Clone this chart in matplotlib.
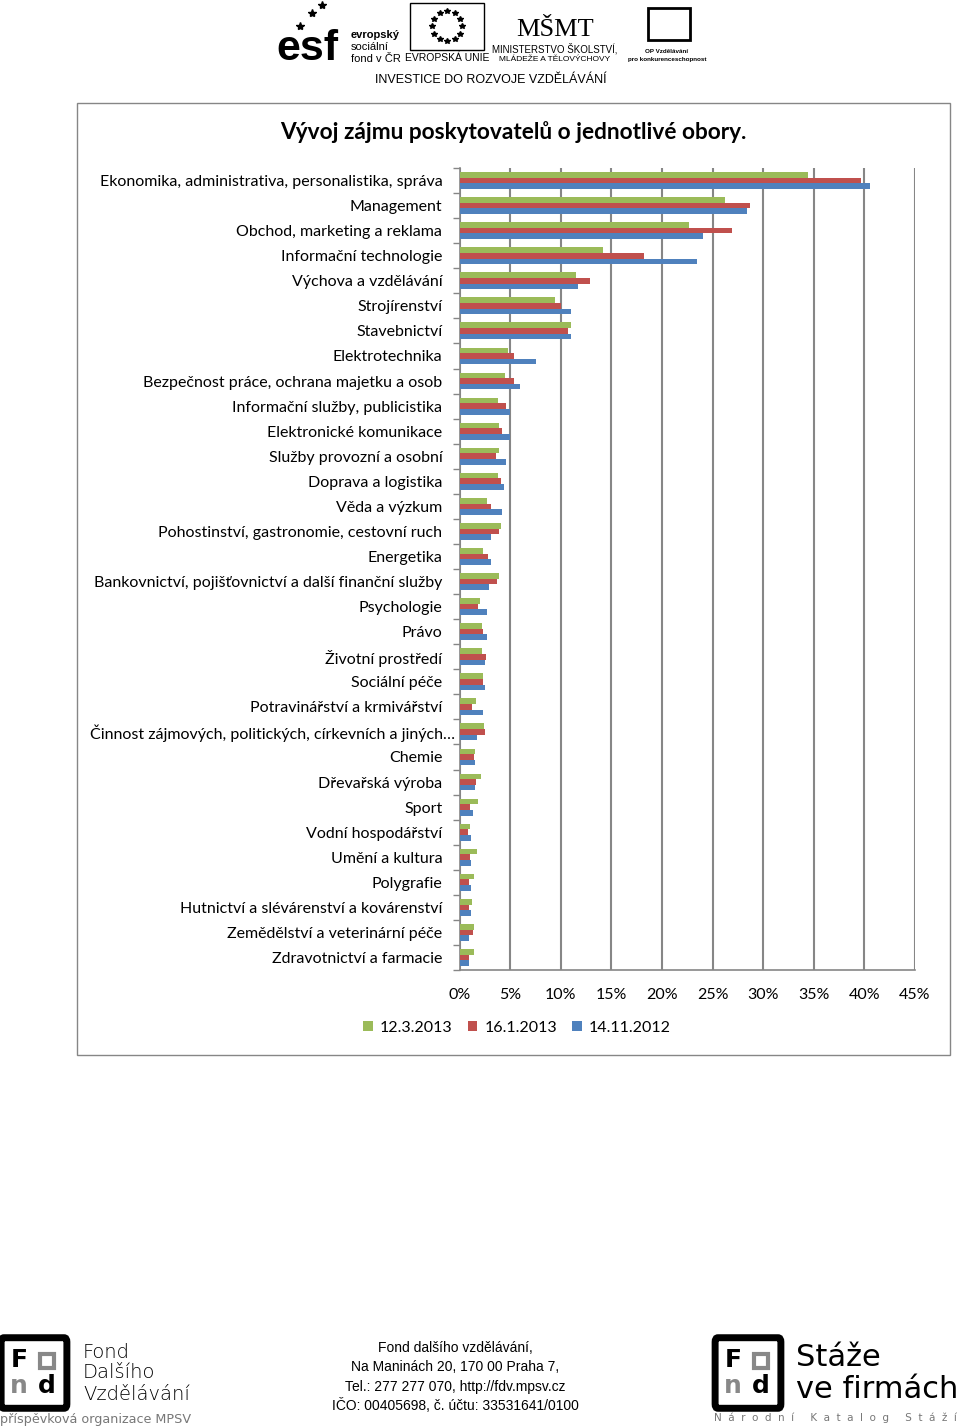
import matplotlib as mpl
mpl.use('Agg')
import matplotlib.pyplot as plt
from matplotlib.patches import Rectangle, FancyBboxPatch
from matplotlib.ticker import FixedLocator, PercentFormatter
from matplotlib.transforms import ScaledTranslation
import numpy as np

plt.rcParams['font.family'] = ['Lato', 'DejaVu Sans']

categories = ['Ekonomika, administrativa, personalistika, správa', 'Management',
              'Obchod, marketing a reklama', 'Informační technologie', 'Výchova a vzdělávání',
              'Strojírenství', 'Stavebnictví', 'Elektrotechnika',
              'Bezpečnost práce, ochrana majetku a osob', 'Informační služby, publicistika',
              'Elektronické komunikace', 'Služby provozní a osobní', 'Doprava a logistika',
              'Věda a výzkum', 'Pohostinství, gastronomie, cestovní ruch', 'Energetika',
              'Bankovnictví, pojišťovnictví a další finanční služby', 'Psychologie', 'Právo',
              'Životní prostředí', 'Sociální péče', 'Potravinářství a krmivářství',
              'Činnost zájmových, politických, církevních a jiných…', 'Chemie',
              'Dřevařská výroba', 'Sport', 'Vodní hospodářství', 'Umění a kultura',
              'Polygrafie', 'Hutnictví a slévárenství a kovárenství',
              'Zemědělství a veterinární péče', 'Zdravotnictví a farmacie']

# values in %
mar2013 = [34.4, 26.2, 22.7, 14.2, 11.5, 9.4, 11.0, 4.8, 4.5, 3.8, 3.85, 3.9, 3.8, 2.7, 4.1, 2.3,
           3.85, 2.0, 2.2, 2.2, 2.3, 1.6, 2.4, 1.5, 2.1, 1.8, 1.05, 1.7, 1.4, 1.25, 1.45, 1.4]
jan2013 = [39.7, 28.7, 26.9, 18.2, 12.9, 10.0, 10.7, 5.4, 5.4, 4.6, 4.2, 3.6, 4.1, 3.1, 3.85, 2.8,
           3.7, 1.8, 2.3, 2.6, 2.3, 1.2, 2.5, 1.45, 1.6, 1.05, 0.8, 1.05, 0.9, 0.9, 1.3, 0.9]
nov2012 = [40.6, 28.4, 24.0, 23.5, 11.7, 11.0, 11.0, 7.5, 6.0, 5.0, 5.0, 4.6, 4.4, 4.2, 3.1, 3.1,
           2.9, 2.7, 2.7, 2.5, 2.5, 2.3, 1.7, 1.55, 1.55, 1.35, 1.15, 1.15, 1.15, 1.15, 0.95, 0.95]
series_names = ['12.3.2013', '16.1.2013', '14.11.2012']
colors = ['#9BBB59', '#C0504D', '#4F81BD']

W, H = 960, 1427
fig = plt.figure(figsize=(W / 100, H / 100), dpi=100)

def px(x, y):
    return x / W, 1 - y / H

# chart frame
fig.patches.append(Rectangle(px(77, 1055), (950 - 77) / W, (1055 - 103) / H,
                             transform=fig.transFigure, fill=False, ec='#868686', lw=1))

x0, x1, y0, y1 = 459.7, 915, 168, 970
ax = fig.add_axes([x0 / W, 1 - y1 / H, (x1 - x0) / W, (y1 - y0) / H])

y = np.arange(len(categories))
bh = 0.224
for k, (vals, c, name) in enumerate(zip([mar2013, jan2013, nov2012], colors, series_names)):
    ax.barh(y + (k - 1) * bh, vals, height=bh, color=c, label=name, zorder=3)

ax.set_ylim(len(categories) - 0.5, -0.5)
ax.set_xlim(0, 45)
ax.set_xticks(np.arange(0, 46, 5))
ax.xaxis.set_major_formatter(PercentFormatter(decimals=0))
ax.set_yticks(y)
ax.set_yticklabels(categories, fontsize=11.5)
ax.yaxis.set_minor_locator(FixedLocator(np.arange(-0.5, len(categories), 1)))
ax.tick_params(axis='y', which='major', length=0, pad=12.5)
ax.tick_params(axis='y', which='minor', length=5, color='#868686', width=1)
ax.tick_params(axis='x', length=0, labelsize=11.5, pad=13)
ax.grid(axis='x', color='#868686', lw=1.5, zorder=0)
for s in ['top', 'right']:
    ax.spines[s].set_visible(False)
for s in ['left', 'bottom']:
    ax.spines[s].set_color('#868686')
    ax.spines[s].set_linewidth(1.2)
# the truncated label runs past the others in the original
lbl = ax.get_yticklabels()[22]
lbl.set_transform(lbl.get_transform() + ScaledTranslation(0.13, 0, fig.dpi_scale_trans))

fig.text(*px(513, 132), 'Vývoj zájmu poskytovatelů o jednotlivé obory.', ha='center', va='center',
         fontsize=16.3, fontweight='bold')

ax.legend(loc='center', bbox_to_anchor=(px(517, 1028)), bbox_transform=fig.transFigure, ncol=3,
          frameon=False, fontsize=11.5, handlelength=0.6, handleheight=0.6, handletextpad=0.45,
          columnspacing=0.95)

# header
fig.text(*px(276, 60), 'esf', fontsize=31, fontweight='bold', va='baseline', ha='left',
         family='Liberation Sans')
fig.lines.append(plt.Line2D(np.array([300, 312, 322]) / W, 1 - np.array([26, 13, 5]) / H,
                            transform=fig.transFigure, ls='none', marker='*', ms=6, color='black'))
for i, t in enumerate(['evropský', 'sociální', 'fond v ČR']):
    fig.text(*px(351, 38 + 12 * i), t, fontsize=8, fontweight='bold' if i == 0 else 'normal',
             family='Liberation Sans')
fig.patches.append(Rectangle(px(410, 50), 74 / W, 47 / H, transform=fig.transFigure,
                             fill=False, ec='black', lw=1))
ang = np.linspace(0, 2 * np.pi, 13)[:-1]
fig.lines.append(plt.Line2D((447 + 15 * np.cos(ang)) / W, 1 - (26 + 15 * np.sin(ang)) / H,
                            transform=fig.transFigure, ls='none', marker='*', ms=4, color='black'))
fig.text(*px(447, 61), 'EVROPSKÁ UNIE', fontsize=7.5, ha='center', family='Liberation Sans')
fig.text(*px(555, 36), 'MŠMT', fontsize=19, ha='center', family='Liberation Serif')
fig.text(*px(555, 52), 'MINISTERSTVO ŠKOLSTVÍ,', fontsize=7, ha='center', family='Liberation Sans')
fig.text(*px(555, 61), 'MLÁDEŽE A TĚLOVÝCHOVY', fontsize=6, ha='center', family='Liberation Sans')
fig.patches.append(Rectangle(px(648, 40), 42 / W, 32 / H, transform=fig.transFigure,
                             fill=False, ec='black', lw=2))
fig.text(*px(667, 53), 'OP Vzdělávání', fontsize=4.5, ha='center', fontweight='bold',
         family='Liberation Sans')
fig.text(*px(667, 61), 'pro konkurenceschopnost', fontsize=4.5, ha='center', fontweight='bold',
         family='Liberation Sans')
fig.text(*px(491, 80), 'INVESTICE DO ROZVOJE VZDĚLÁVÁNÍ', fontsize=9, ha='center', va='center',
         family='Liberation Sans')

# footer
for xl in [0, 714]:
    fig.patches.append(FancyBboxPatch(px(xl + 4, 1404), 60 / W, 62 / H, boxstyle='round,pad=0.003',
                                      transform=fig.transFigure, fill=False, ec='black', lw=5))
    fig.text(*px(xl + 19, 1360), 'F', fontsize=18, fontweight='bold', ha='center', va='center',
             family='DejaVu Sans')
    fig.text(*px(xl + 47, 1386), 'd', fontsize=18, fontweight='bold', ha='center', va='center',
             family='DejaVu Sans')
    fig.text(*px(xl + 19, 1386), 'n', fontsize=18, fontweight='bold', ha='center', va='center',
             color='#888888', family='DejaVu Sans')
    fig.patches.append(Rectangle(px(xl + 40, 1368), 14 / W, 14 / H, transform=fig.transFigure,
                                 fill=False, ec='#888888', lw=3))
for i, t in enumerate(['Fond', 'Dalšího', 'Vzdělávání']):
    fig.text(*px(83, 1352 + 21 * i), t, fontsize=14, va='center', family='DejaVu Sans',
             fontweight='light')
fig.text(*px(0, 1419), 'příspěvková organizace MPSV', fontsize=9.2, va='center', color='#777777',
         family='DejaVu Sans')
for i, t in enumerate(['Fond dalšího vzdělávání,', 'Na Maninách 20, 170 00 Praha 7,',
                       'Tel.: 277 277 070, http://fdv.mpsv.cz', 'IČO: 00405698, č. účtu: 33531641/0100']):
    fig.text(*px(455, 1348 + 19.3 * i), t, fontsize=10, ha='center', va='center',
             family='Liberation Sans')
fig.text(*px(796, 1358), 'Stáže', fontsize=22, va='center', family='DejaVu Sans')
fig.text(*px(796, 1390), 've firmách', fontsize=22, va='center', family='DejaVu Sans')
fig.text(*px(714, 1418), 'N  á  r  o  d  n  í     K  a  t  a  l  o  g     S  t  á  ž  í', fontsize=7.5,
         va='center', color='#777777', family='DejaVu Sans')

plt.savefig('out.png', dpi=100)
